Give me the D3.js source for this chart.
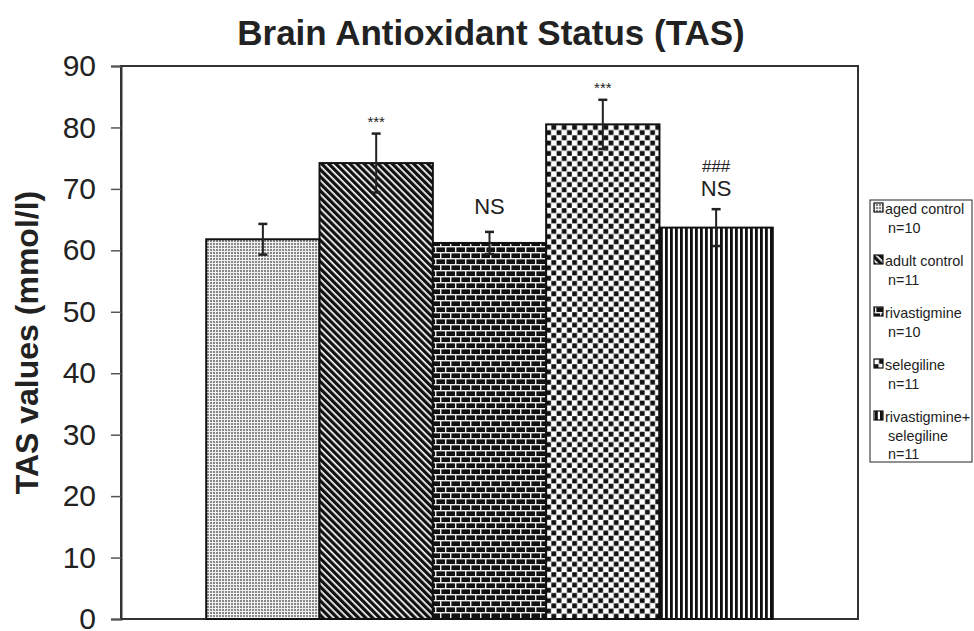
<!DOCTYPE html>
<html>
<head>
<meta charset="utf-8">
<script src="https://cdn.jsdelivr.net/npm/d3@7"></script>
<style>
  body { margin: 0; background: #fff; }
  text { font-family: "Liberation Sans", Arial, sans-serif; fill: #222; }
</style>
</head>
<body>
<svg id="chart"></svg>
<script>
let width = 974;
let height = 631;

// data
let groups = ['aged control', 'adult control', 'rivastigmine', 'selegiline', 'rivastigmine+ selegiline'];
let means = [61.8, 74.2, 61.2, 80.5, 63.7];
let errors = [2.5, 4.8, 1.8, 4.0, 3.0];
let notes = [[], ['***'], ['NS'], ['***'], ['###', 'NS']];
let legendLines = [
  ['aged control', 'n=10'],
  ['adult control', 'n=11'],
  ['rivastigmine', 'n=10'],
  ['selegiline', 'n=11'],
  ['rivastigmine+', 'selegiline', 'n=11']
];
let yTicks = [0, 10, 20, 30, 40, 50, 60, 70, 80, 90];
let patterns = ['p-dots', 'p-diag', 'p-brick', 'p-check', 'p-vert'];

let plot = { left: 121, right: 858, top: 66, bottom: 619 };

const svg = d3.select('#chart')
  .attr('width', width)
  .attr('height', height);

// fill patterns
const defs = svg.append('defs');

let p = defs.append('pattern').attr('id', 'p-dots')
  .attr('patternUnits', 'userSpaceOnUse').attr('width', 3).attr('height', 3);
p.append('rect').attr('width', 3).attr('height', 3).attr('fill', '#f0f0f0');
p.append('rect').attr('width', 2).attr('height', 2).attr('fill', '#888');

p = defs.append('pattern').attr('id', 'p-diag')
  .attr('patternUnits', 'userSpaceOnUse').attr('width', 5).attr('height', 5)
  .attr('patternTransform', 'rotate(-45)');
p.append('rect').attr('width', 5).attr('height', 5).attr('fill', '#fff');
p.append('rect').attr('width', 3.3).attr('height', 5).attr('fill', '#111');

p = defs.append('pattern').attr('id', 'p-brick')
  .attr('patternUnits', 'userSpaceOnUse').attr('width', 20).attr('height', 12);
p.append('rect').attr('width', 20).attr('height', 12).attr('fill', '#111');
[[0, 0, 20, 1.4], [0, 6, 20, 1.4], [0, 0, 1.4, 6], [10, 0, 1.4, 6], [5, 6, 1.4, 6], [15, 6, 1.4, 6]]
  .forEach(r => p.append('rect').attr('x', r[0]).attr('y', r[1]).attr('width', r[2]).attr('height', r[3]).attr('fill', '#eee'));

p = defs.append('pattern').attr('id', 'p-check')
  .attr('patternUnits', 'userSpaceOnUse').attr('width', 10.4).attr('height', 10.4);
p.append('rect').attr('width', 10.4).attr('height', 10.4).attr('fill', '#fff');
p.append('rect').attr('x', 0.2).attr('y', 0.2).attr('width', 4.8).attr('height', 4.8).attr('fill', '#111');
p.append('rect').attr('x', 5.4).attr('y', 5.4).attr('width', 4.8).attr('height', 4.8).attr('fill', '#111');

p = defs.append('pattern').attr('id', 'p-vert')
  .attr('patternUnits', 'userSpaceOnUse').attr('width', 5).attr('height', 5);
p.append('rect').attr('width', 5).attr('height', 5).attr('fill', '#fff');
p.append('rect').attr('width', 2.8).attr('height', 5).attr('fill', '#111');

// scales
const x = d3.scaleBand()
  .domain(groups)
  .range([plot.left, plot.right])
  .paddingInner(0)
  .paddingOuter(0.752);

const y = d3.scaleLinear()
  .domain([0, 90])
  .range([plot.bottom, plot.top]);

// title
svg.append('text')
  .attr('x', 491).attr('y', 45)
  .attr('text-anchor', 'middle')
  .style('font-size', '35px').style('font-weight', 'bold')
  .text('Brain Antioxidant Status (TAS)');

// y axis label
svg.append('text')
  .attr('transform', `translate(38, ${(plot.top + plot.bottom) / 2}) rotate(-90)`)
  .attr('text-anchor', 'middle')
  .style('font-size', '32px').style('font-weight', 'bold')
  .text('TAS values (mmol/l)');

// plot area frame
svg.append('rect')
  .attr('x', plot.left).attr('y', plot.top)
  .attr('width', plot.right - plot.left).attr('height', plot.bottom - plot.top)
  .attr('fill', 'none').attr('stroke', '#333').attr('stroke-width', 2);

// y axis
const yAxis = svg.append('g')
  .attr('transform', `translate(${plot.left},0)`)
  .call(d3.axisLeft(y).tickValues(yTicks).tickSize(10).tickPadding(15));
yAxis.select('.domain').attr('stroke', '#333').attr('stroke-width', 2);
yAxis.selectAll('.tick line').attr('stroke', '#555').attr('stroke-width', 1.5);
yAxis.selectAll('.tick text')
  .style('font-size', '30px')
  .style('font-family', '"Liberation Sans", Arial, sans-serif')
  .attr('fill', '#222');

// bars
svg.append('g').selectAll('rect')
  .data(groups)
  .join('rect')
  .attr('x', d => x(d))
  .attr('y', (d, i) => y(means[i]))
  .attr('width', x.bandwidth())
  .attr('height', (d, i) => y(0) - y(means[i]))
  .attr('fill', (d, i) => `url(#${patterns[i]})`)
  .attr('stroke', '#111')
  .attr('stroke-width', 2);

// error bars
const eb = svg.append('g').selectAll('g')
  .data(groups)
  .join('g')
  .attr('stroke', '#222');
eb.append('line')
  .attr('x1', d => x(d) + x.bandwidth() / 2)
  .attr('x2', d => x(d) + x.bandwidth() / 2)
  .attr('y1', (d, i) => y(means[i] - errors[i]))
  .attr('y2', (d, i) => y(means[i] + errors[i]))
  .attr('stroke-width', 2);
[-1, 1].forEach(s => {
  eb.append('line')
    .attr('x1', d => x(d) + x.bandwidth() / 2 - 4.5)
    .attr('x2', d => x(d) + x.bandwidth() / 2 + 4.5)
    .attr('y1', (d, i) => y(means[i] + s * errors[i]))
    .attr('y2', (d, i) => y(means[i] + s * errors[i]))
    .attr('stroke-width', 2.5);
});

// significance marks above the error bars
groups.forEach((g, i) => {
  let cx = x(g) + x.bandwidth() / 2;
  let top = y(means[i] + errors[i]);
  let marks = notes[i];
  if (marks.length === 1 && marks[0] === '***') {
    svg.append('text').attr('x', cx).attr('y', top - 7)
      .attr('text-anchor', 'middle').style('font-size', '15px').text('***');
  } else if (marks.length === 1) {
    svg.append('text').attr('x', cx).attr('y', top - 18)
      .attr('text-anchor', 'middle').style('font-size', '22px').text(marks[0]);
  } else if (marks.length === 2) {
    svg.append('text').attr('x', cx).attr('y', top - 37)
      .attr('text-anchor', 'middle').style('font-size', '17px').text(marks[0]);
    svg.append('text').attr('x', cx).attr('y', top - 13)
      .attr('text-anchor', 'middle').style('font-size', '22px').text(marks[1]);
  }
});

// legend
const legend = svg.append('g');
legend.append('rect')
  .attr('x', 870).attr('y', 200).attr('width', 102).attr('height', 262)
  .attr('fill', '#fff').attr('stroke', '#222').attr('stroke-width', 1);

legendLines.forEach((lines, i) => {
  let by = 214 + i * 52;
  legend.append('rect')
    .attr('x', 874).attr('y', by - 11).attr('width', 9).attr('height', 9)
    .attr('fill', `url(#${patterns[i]})`).attr('stroke', '#111').attr('stroke-width', 1.2);
  lines.forEach((t, j) => {
    legend.append('text')
      .attr('x', j === 0 ? 885 : 888)
      .attr('y', by + j * 18.5)
      .style('font-size', '14.4px')
      .text(t);
  });
});
</script>
</body>
</html>
